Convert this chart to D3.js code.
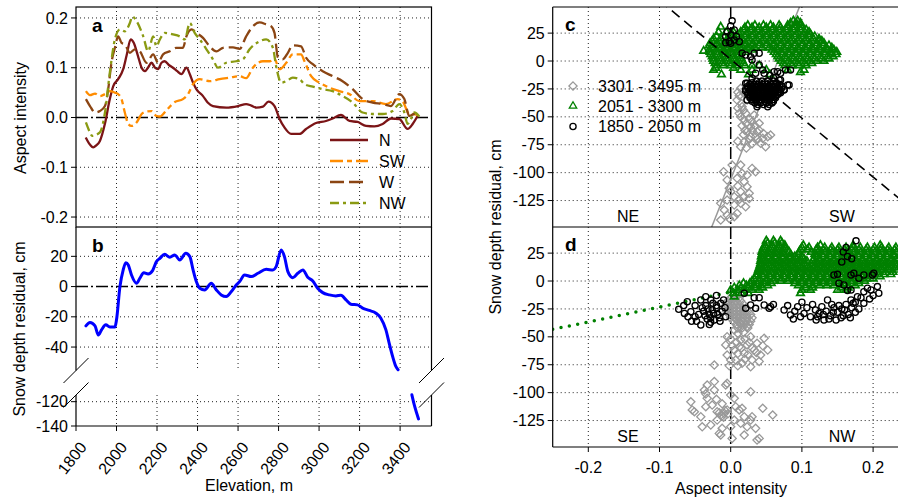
<!DOCTYPE html>
<html>
<head>
<meta charset="utf-8">
<script src="https://cdn.jsdelivr.net/npm/d3@7"></script>
<style>
body { margin: 0; background: #fff; }
text { font-family: "Liberation Sans", Arial, sans-serif; fill: #000; }
</style>
</head>
<body>
<div id="chart"></div>
<script>
// ---------- data: panel a (aspect intensity vs elevation) ----------
var aspN = [[1848,-0.04],[1870,-0.055],[1885,-0.06],[1900,-0.056],[1918,-0.047],[1943,-0.012],[1967,0.037],[1984,0.063],[2008,0.077],[2033,0.097],[2050,0.125],[2070,0.157],[2085,0.15],[2105,0.125],[2124,0.1],[2140,0.093],[2155,0.1],[2173,0.11],[2190,0.1],[2205,0.097],[2222,0.11],[2238,0.113],[2260,0.105],[2279,0.1],[2300,0.093],[2320,0.087],[2345,0.1],[2362,0.087],[2378,0.07],[2394,0.057],[2427,0.043],[2450,0.03],[2476,0.023],[2542,0.02],[2600,0.023],[2640,0.027],[2665,0.024],[2690,0.02],[2723,0.022],[2750,0.032],[2780,0.023],[2805,-0.003],[2829,-0.02],[2862,-0.033],[2903,-0.033],[2936,-0.023],[2985,-0.011],[3034,-0.007],[3067,-0.002],[3108,0.005],[3150,-0.007],[3190,-0.009],[3232,-0.017],[3273,-0.018],[3314,-0.013],[3355,-0.002],[3396,-0.003],[3437,-0.023],[3462,-0.013],[3486,0.003]];
var aspSW = [[1849,0.053],[1869,0.045],[1894,0.048],[1918,0.043],[1943,0.047],[1967,0.053],[1992,0.05],[2008,0.047],[2025,0.037],[2041,0.01],[2058,-0.013],[2074,-0.017],[2099,-0.01],[2124,0.007],[2148,0.012],[2173,0.013],[2197,0.003],[2214,0.002],[2247,0.015],[2288,0.031],[2328,0.037],[2353,0.047],[2378,0.067],[2411,0.077],[2460,0.073],[2509,0.077],[2558,0.08],[2608,0.083],[2640,0.079],[2673,0.1],[2723,0.113],[2756,0.113],[2780,0.117],[2805,0.097],[2838,0.11],[2870,0.127],[2911,0.127],[2928,0.113],[2961,0.083],[3002,0.07],[3051,0.06],[3100,0.053],[3150,0.047],[3199,0.033],[3264,0.033],[3330,0.027],[3388,0.037],[3412,0.033],[3445,0.007],[3470,0.007],[3495,0]];
var aspW = [[1849,0.037],[1869,0.023],[1894,0.01],[1918,0.013],[1943,0.023],[1960,0.06],[1975,0.11],[1992,0.14],[2008,0.163],[2025,0.15],[2041,0.147],[2066,0.13],[2091,0.137],[2115,0.133],[2148,0.11],[2181,0.127],[2205,0.11],[2230,0.127],[2263,0.133],[2296,0.14],[2328,0.14],[2345,0.163],[2370,0.177],[2394,0.17],[2427,0.16],[2460,0.143],[2493,0.133],[2526,0.14],[2575,0.141],[2608,0.138],[2640,0.163],[2673,0.183],[2706,0.191],[2739,0.187],[2764,0.183],[2780,0.17],[2797,0.12],[2821,0.117],[2846,0.13],[2870,0.145],[2911,0.143],[2936,0.12],[2969,0.107],[3018,0.093],[3067,0.083],[3116,0.073],[3166,0.057],[3215,0.037],[3264,0.03],[3314,0.027],[3355,0.023],[3396,0.047],[3421,0.037],[3445,0.003],[3470,0.007],[3495,0]];
var aspNW = [[1849,-0.01],[1869,-0.03],[1880,-0.037],[1918,-0.03],[1943,0.01],[1967,0.09],[1992,0.157],[2017,0.177],[2041,0.173],[2066,0.19],[2078,0.203],[2100,0.193],[2132,0.163],[2156,0.133],[2181,0.163],[2197,0.143],[2214,0.157],[2238,0.17],[2279,0.167],[2312,0.163],[2337,0.157],[2362,0.19],[2386,0.17],[2411,0.157],[2444,0.137],[2476,0.117],[2501,0.1],[2542,0.11],[2591,0.113],[2624,0.117],[2657,0.137],[2706,0.153],[2739,0.157],[2772,0.14],[2788,0.103],[2813,0.07],[2838,0.073],[2870,0.08],[2903,0.077],[2928,0.067],[2969,0.062],[3018,0.057],[3067,0.053],[3116,0.043],[3166,0.03],[3215,0.01],[3264,0.007],[3314,0.007],[3363,0.013],[3396,0.027],[3421,0.01],[3437,-0.013],[3453,-0.003],[3470,0.01],[3495,0.002]];
var aspSeries = ["N", "SW", "W", "NW"];
var aspColors = ["#7b1416", "#ff8c00", "#8b4513", "#8a9a12"];
var aspDash = [null, "13,4,5,4", "14,5", "9,4,3,4"];

// ---------- data: panel b (snow depth residual vs elevation) ----------
var resid = [[1849,-26],[1869,-23.8],[1894,-26],[1910,-32],[1926,-28.6],[1947,-25.3],[1967,-26.8],[1992,-26.8],[2000,-22],[2017,0],[2033,11],[2046,15.8],[2058,14.3],[2074,7.7],[2099,2.2],[2115,5.5],[2135,9.2],[2156,8.4],[2178,10.6],[2197,16.5],[2214,18.7],[2238,21.3],[2263,19.4],[2288,20.9],[2312,17.6],[2342,22],[2362,19.8],[2378,11],[2394,3.3],[2411,-1.1],[2435,-2.2],[2468,2.2],[2493,-2.2],[2517,-5.5],[2542,-6.6],[2567,-3.3],[2591,1.1],[2608,3.3],[2632,7.7],[2665,6.6],[2698,8.8],[2739,11.4],[2772,11],[2788,13.2],[2813,24.2],[2829,19.8],[2846,9.9],[2870,5.9],[2895,8.8],[2920,11],[2944,6.2],[2969,3.7],[2993,-1.1],[3018,-4],[3051,-5.5],[3083,-6.2],[3108,-5.7],[3133,-8.8],[3157,-11.7],[3190,-12.1],[3215,-14.3],[3248,-15.8],[3281,-17.6],[3305,-20.9],[3330,-28.6],[3346,-37.4],[3363,-46.2],[3379,-52.8],[3390,-55]];
var residLow = [[3458,-114],[3470,-122.7],[3491,-134.2]];

// ---------- data: panel c (SW aspect intensity vs residual) ----------
var cGreenRows = [
  [36,[0.088,0.094]],
  [34,[0.084,0.092,0.098]],
  [32,[0.024,0.034,0.046,0.056,0.068,0.08,0.09,0.098]],
  [30.6,[-0.014]],
  [30,[0.02,0.03,0.04,0.05,0.06,0.07,0.08,0.09,0.1]],
  [28,[0.018,0.028,0.038,0.048,0.058,0.068,0.078,0.088,0.098,0.106]],
  [26,[-0.017,-0.006,0.004,0.014,0.024,0.034,0.044,0.054,0.064,0.074,0.084,0.094,0.104,0.11]],
  [24,[0.002,0.012,0.022,0.032,0.042,0.052,0.062,0.072,0.082,0.092,0.102,0.112]],
  [22,[-0.02,-0.01,0.0,0.01,0.02,0.03,0.04,0.05,0.06,0.07,0.08,0.09,0.1,0.11,0.118]],
  [20,[-0.024,-0.014,-0.004,0.006,0.016,0.026,0.036,0.046,0.056,0.066,0.076,0.086,0.096,0.106,0.116,0.124]],
  [18,[-0.026,-0.016,-0.006,0.004,0.014,0.024,0.034,0.044,0.054,0.064,0.074,0.084,0.094,0.104,0.114,0.124,0.128]],
  [16,[-0.029,-0.019,-0.009,0.001,0.011,0.021,0.031,0.041,0.051,0.061,0.071,0.081,0.091,0.101,0.111,0.121,0.131]],
  [14,[-0.03,-0.02,-0.01,0.0,0.01,0.02,0.03,0.04,0.05,0.06,0.07,0.08,0.09,0.1,0.11,0.12,0.13,0.138]],
  [12,[-0.026,-0.016,-0.006,0.004,0.014,0.024,0.034,0.044,0.054,0.064,0.074,0.084,0.094,0.104,0.114,0.124,0.134,0.142]],
  [10,[-0.03,-0.02,-0.01,0.0,0.01,0.02,0.03,0.058,0.066,0.076,0.086,0.096,0.106,0.116,0.126,0.136,0.145]],
  [9,[-0.038]],
  [8,[-0.029,-0.019,-0.009,0.001,0.011,0.021,0.061,0.071,0.081,0.091,0.101,0.111,0.121,0.131,0.141,0.149]],
  [6,[-0.028,-0.018,-0.008,0.002,0.012,0.064,0.072,0.082,0.092,0.102,0.112,0.122,0.132,0.142,0.148]],
  [4,[-0.026,-0.016,-0.006,0.004,0.014,0.066,0.076,0.086,0.096,0.106,0.116,0.126,0.136,0.144]],
  [2,[-0.025,-0.015,-0.005,0.005,0.015,0.068,0.078,0.088,0.098,0.108,0.118,0.128,0.138]],
  [0,[-0.024,-0.014,-0.004,0.006,0.016,0.071,0.081,0.091,0.101,0.111,0.121,0.131]],
  [-2,[-0.022,-0.012,-0.002,0.008,0.018,0.074,0.084,0.094,0.104,0.114]],
  [-4,[-0.02,-0.01,0.0,0.01,0.02,0.03,0.04,0.076,0.086,0.096,0.106]],
  [-6.3,[-0.021,0.004]],
  [-8,[-0.024,0.014,0.03,0.05,0.08,0.103]],
  [-10,[0.098]],
  [-12,[-0.013,0.025,0.055]]
];
var cBlackRows = [
  [-18,[0.036,0.044,0.052,0.06]],
  [-19.5,[0.03,0.04,0.048,0.056,0.064]],
  [-21,[0.027,0.033,0.039,0.045,0.051,0.057,0.063,0.069]],
  [-22.5,[0.024,0.03,0.036,0.042,0.048,0.054,0.06,0.066,0.072]],
  [-24,[0.024,0.03,0.036,0.042,0.048,0.054,0.06,0.066,0.072]],
  [-25.5,[0.021,0.027,0.033,0.039,0.045,0.051,0.057,0.063,0.069,0.075]],
  [-27,[0.021,0.027,0.033,0.039,0.045,0.051,0.057,0.063,0.069]],
  [-28.5,[0.024,0.03,0.036,0.042,0.048,0.054,0.06,0.066,0.07]],
  [-30,[0.024,0.03,0.036,0.042,0.048,0.054,0.06,0.066]],
  [-31.5,[0.027,0.033,0.039,0.045,0.051,0.057,0.063]],
  [-33,[0.027,0.033,0.039,0.045,0.051,0.057,0.063]],
  [-34.5,[0.03,0.036,0.042,0.048,0.054,0.06]],
  [-36,[0.03,0.036,0.042,0.048,0.054,0.06]],
  [-37.5,[0.034,0.042,0.05,0.058]],
  [-39,[0.038,0.046,0.054]]
];
var cBlack = [[0.002,36],[0,31.4],[-0.005,26.3],[0.005,27.8],[-0.007,21.8],[0,23.3],[-0.002,17.3],[-0.007,16.4],[0.005,18.8],[0.012,17.3],[0,15.9],[0.008,22],
  [0.016,6.9],[0.021,5.4],[0.028,3.9],[0.033,6.9],[0.04,6.9],[0.03,0.9],[0.04,-3.6],[0.045,-8.1],[0.035,-11],[0.047,-11],[0.061,-9.6],[0.07,-11],[0.077,-8.1],[0.023,-20],[0.068,-17],[0.08,-21.5],[0.075,-26],[0.068,-28.7],[0.055,-13],[0.06,-15],
  [0.066,-9.6],[0.084,-8],[0.082,-21.5],[0.07,-17],[0.052,-41],[0.037,-41],[0.023,-35],[0.021,-20],[0.03,-15.5]];
var cGrey = [[0.014,-24.5],[0.009,-35],[0.012,-46.9],[0.019,-52.9],[0.028,-58.9],[0.037,-63.3],[0.052,-67.8],[0.056,-66.3],[0.049,-76.8],[0.042,-73.7],[0.028,-67.8],[0.014,-76.8],[0.019,-72.3],[0.023,-63.3],[0.016,-40.9],[0.021,-46.9],[0.023,-35],[0.019,-29],[0.033,-48.4],[0.03,-54.4],[0.04,-55.8],[0.035,-67.8],[0.045,-69.3],
  [0.01,-28],[0.012,-31],[0.015,-38],[0.01,-42],[0.014,-50],[0.018,-44],[0.022,-56],[0.026,-52],[0.016,-58],[0.02,-62],[0.03,-62],[0.026,-70],[0.034,-58],[0.04,-62],[0.046,-65],[0.038,-70],[0.018,-66],[0.01,-72],[0.022,-78],[0.03,-74],
  [-0.01,-99.2],[0.002,-93.2],[0.014,-93.2],[0.03,-96.2],[0.035,-99.2],[-0.005,-106.6],[-0.002,-114],[0.009,-105.1],[0.019,-108.2],[0.023,-112.6],[0.026,-118.5],[0.014,-117.1],[0.005,-121.6],[-0.005,-124.6],[-0.014,-127.5],[-0.009,-133.5],[0.005,-129],[0.014,-127.5],[0.009,-136.5],[-0.002,-141],[-0.014,-142.5],[0.021,-130.6],[0.026,-123.1],[0.023,-102.2],[0.016,-100.6],[0.005,-139.5],[-0.005,-138],[0.01,-112],[0,-117],[0.018,-122],[0.012,-124]];
var fitGreyC = [[-0.03,-154],[0.1,54]];
var fitBlackC = [[-0.1,54.2],[0.3,-156.6]];

// ---------- data: panel d (NW aspect intensity vs residual) ----------
var dGreenRows = [
  [36,[0.05,0.06,0.07]],
  [34,[0.052,0.062,0.072]],
  [32,[0.048,0.058,0.068,0.076,0.102,0.126,0.172,0.21]],
  [30,[0.046,0.056,0.066,0.076,0.1,0.11,0.122,0.132,0.142,0.152,0.162,0.172,0.182,0.192,0.202,0.212,0.222,0.232]],
  [28,[0.045,0.055,0.065,0.075,0.098,0.108,0.12,0.13,0.14,0.15,0.16,0.17,0.18,0.19,0.2,0.21,0.22,0.23]],
  [26,[0.044,0.054,0.064,0.074,0.082,0.096,0.113,0.123,0.133,0.143,0.153,0.163,0.173,0.183,0.193,0.203,0.213,0.223,0.233]],
  [24,[0.044,0.054,0.064,0.074,0.084,0.095,0.118,0.128,0.138,0.148,0.158,0.168,0.178,0.188,0.198,0.208,0.218,0.228]],
  [22,[0.043,0.053,0.063,0.073,0.083,0.09,0.1,0.122,0.13,0.14,0.15,0.16,0.17,0.18,0.19,0.2,0.21,0.22,0.23]],
  [20,[0.043,0.053,0.063,0.073,0.083,0.093,0.103,0.117,0.125,0.135,0.145,0.155,0.165,0.175,0.185,0.195,0.205,0.215,0.225,0.233]],
  [18,[0.042,0.047,0.057,0.067,0.077,0.087,0.097,0.107,0.115,0.125,0.135,0.145,0.155,0.165,0.175,0.185,0.195,0.205,0.215,0.225,0.234]],
  [16,[0.042,0.052,0.062,0.072,0.082,0.092,0.102,0.12,0.13,0.14,0.15,0.16,0.17,0.18,0.19,0.2,0.21,0.22,0.23]],
  [14,[0.041,0.046,0.056,0.066,0.076,0.086,0.096,0.106,0.115,0.125,0.135,0.145,0.155,0.165,0.175,0.185,0.195,0.205,0.215,0.225,0.234]],
  [12,[0.04,0.05,0.06,0.07,0.08,0.09,0.1,0.11,0.12,0.13,0.14,0.15,0.16,0.17,0.18,0.19,0.2,0.21,0.22,0.23]],
  [10,[0.039,0.044,0.054,0.064,0.074,0.084,0.094,0.104,0.114,0.124,0.134,0.144,0.154,0.164,0.174,0.184,0.194,0.204,0.214,0.224,0.234]],
  [8,[0.038,0.048,0.058,0.068,0.078,0.088,0.098,0.108,0.118,0.128,0.138,0.148,0.158,0.168,0.178,0.188,0.198,0.208,0.218,0.228]],
  [6,[0.037,0.043,0.053,0.063,0.073,0.083,0.093,0.103,0.113,0.123,0.133,0.143,0.153,0.163,0.173,0.183,0.193,0.203,0.215,0.225]],
  [4,[0.036,0.046,0.056,0.066,0.076,0.086,0.096,0.106,0.116,0.126,0.136,0.146,0.156,0.166,0.176,0.186,0.196,0.21]],
  [2,[0.033,0.041,0.051,0.061,0.071,0.081,0.091,0.101,0.111,0.121,0.131,0.141,0.151,0.161,0.171,0.181,0.191,0.2]],
  [0,[0.03,0.04,0.05,0.06,0.07,0.08,0.09,0.1,0.11,0.12,0.13,0.14,0.15,0.16,0.17,0.18,0.188]],
  [-2,[0.018,0.027,0.037,0.047,0.057,0.09,0.1,0.11,0.12,0.13,0.14,0.15,0.16,0.17,0.18]],
  [-4,[0.012,0.022,0.032,0.042,0.052,0.095,0.105,0.115,0.125,0.135,0.145,0.155,0.165,0.175]],
  [-6,[0.005,0.015,0.025,0.035,0.045,0.105,0.115,0.155,0.165]],
  [-8,[0.0,0.01,0.02,0.03,0.04,0.1,0.112,0.15,0.162]],
  [-11,[0.004,0.015,0.025,0.098]],
  [-14,[0.005]]
];
var dBlack = [[-0.073,-25.4],[-0.061,-18.5],[-0.056,-27.5],[-0.042,-17],[-0.028,-17],[-0.014,-20],[-0.042,-39.4],[-0.023,-34.9],[-0.007,-32],[-0.066,-22],[-0.05,-22],[-0.05,-32],[-0.035,-14],[-0.02,-13],[-0.035,-22],[-0.03,-30],[-0.02,-24],[-0.012,-27],[-0.038,-27],[-0.045,-30],[-0.028,-37],[-0.015,-36],[-0.06,-32],[-0.033,-34],[-0.025,-20],[-0.018,-30],[-0.008,-24],[-0.04,-24],[-0.026,-26],[-0.01,-17],[-0.048,-36],[-0.03,-39],[-0.055,-36],[-0.065,-29],[-0.032,-25],[-0.024,-29],[-0.036,-31],[-0.028,-33],[-0.02,-22],[-0.016,-33],
  [0.019,-11],[0.033,-15],[0.04,-15],[0.028,-21.5],[0.047,-21.5],[0.056,-23],[0.035,-24.5],[0.021,-24.5],[0.054,-24.5],[0.06,-21],
  [0.075,-26],[0.084,-30.5],[0.094,-23],[0.103,-29],[0.112,-32],[0.119,-26],[0.131,-35],[0.136,-17],[0.08,-22],[0.09,-27],[0.098,-32],[0.107,-24],[0.115,-21],[0.124,-29],[0.128,-23],[0.134,-27],[0.14,-31],[0.145,-24],[0.15,-28],[0.155,-33],[0.16,-26],[0.165,-30],[0.17,-24],[0.175,-28],[0.142,-21],[0.152,-22],[0.162,-21],[0.172,-20],[0.18,-25],[0.158,-31],[0.148,-35],[0.138,-34],[0.12,-35],[0.1,-19],[0.088,-34],[0.168,-33],[0.144,-28],[0.156,-25],[0.13,-30],[0.122,-32],
  [0.176,36],[0.162,30],[0.158,26],[0.164,22],[0.156,17],[0.17,20],[0.145,5.4],[0.15,6],[0.169,5.4],[0.18,2.4],[0.187,5.4],[0.199,5.4],[0.159,-3.6],[0.169,-8],[0.187,-9.6],[0.192,-6.5],[0.208,-11],[0.178,-14],[0.169,-17],[0.187,-20],[0.197,-8],[0.206,-5],[0.183,-15],[0.2,-13],[0.173,6.9],[0.201,6.9],[0.152,-2],[0.164,-8.5],[0.195,-16],[0.175,-19]];
var dGreyRows = [
  [-12,[0.004,0.01]],
  [-15,[0.0,0.006,0.012]],
  [-18,[-0.004,0.002,0.008,0.014]],
  [-21,[-0.006,0.0,0.006,0.012,0.018]],
  [-24,[-0.008,-0.002,0.004,0.01,0.016,0.022]],
  [-27,[-0.006,0.0,0.006,0.012,0.018,0.024]],
  [-30,[-0.002,0.004,0.01,0.016,0.022,0.028]],
  [-33,[0.0,0.006,0.012,0.018,0.024,0.03]],
  [-36,[0.004,0.01,0.016,0.022,0.028]],
  [-39,[0.008,0.014,0.02,0.026]],
  [-42,[0.01,0.016,0.024]]
];
var dGrey = [[-0.005,-49.9],[-0.007,-57.3],[-0.005,-66.3],[0,-70.8],[0.005,-61.8],[0.014,-52.9],[0.023,-40.9],[0.028,-49.9],[0.037,-55.8],[0.047,-51.3],[0.052,-61.8],[0.042,-66.3],[0.03,-70.8],[0.028,-76.8],[0.016,-73.7],[0.007,-70.8],[-0.023,-75.3],[0.019,-64.8],[0.033,-61.8],[0.012,-58.9],[0.023,-57.3],[0.005,-43.9],[0.014,-37.9],[0.009,-32],
  [0.01,-47],[0.018,-46],[0.02,-52],[0.026,-55],[0.03,-60],[0.015,-60],[0.008,-55],[0,-52],[0.002,-58],[0.01,-65],[0.024,-66],[0.036,-64],[0.045,-58],[0.04,-72],[0.02,-70],[-0.002,-76],[0.01,-76],
  [-0.023,-90.1],[-0.037,-97.7],[-0.033,-105.1],[-0.056,-108.2],[-0.054,-115.5],[-0.042,-121.6],[-0.035,-112.6],[-0.026,-111.1],[-0.019,-117.1],[-0.014,-120.1],[-0.009,-118.6],[-0.005,-115.5],[-0.007,-93.2],[0,-102.2],[0.005,-105.1],[0.007,-112.6],[0.012,-115.5],[0.016,-114],[0.028,-99.2],[0.019,-121.6],[0.03,-121.6],[0.045,-114],[0.059,-120.1],[-0.028,-129],[-0.019,-124.6],[-0.012,-132],[0,-130.6],[0.005,-124.6],[0.014,-127.5],[0.023,-130.6],[0.028,-124.6],[0.019,-138],[0.002,-141],[-0.014,-138],[0.04,-141],[0.035,-132],[-0.033,-93.2],[-0.005,-91.7],[0.037,-142.5],[-0.016,-136.5],[-0.04,-130.6],[-0.051,-117.1],[-0.035,-101.1],[-0.023,-97.7],[-0.01,-122],[-0.004,-119],[-0.02,-106],[-0.012,-110],[-0.016,-118],[-0.008,-116],[-0.012,-121]];
var fitGreenD = [[-0.25,-43.3],[0.25,23.3]];

// ---------- ticks, labels ----------
var elevTicks = [1800, 2000, 2200, 2400, 2600, 2800, 3000, 3200, 3400];
var aspTicksA = [-0.2, -0.1, 0, 0.1, 0.2];
var residTicksB = [20, 0, -20, -40, -120, -140];
var residTicksCD = [25, 0, -25, -50, -75, -100, -125];
var aspTicksCD = [-0.2, -0.1, 0, 0.1, 0.2];
var groupNames = ["3301 - 3495 m", "2051 - 3300 m", "1850 - 2050 m"];
var quadC = ["NE", "SW"], quadD = ["SE", "NW"];

function rowsToPoints(rows) {
	var out = [];
	rows.forEach(function(r) { r[1].forEach(function(x) { out.push([x, r[0]]); }); });
	return out;
}

var cfg = {
	w: 898, h: 500,
	fontSize: 16,
	gridDash: "1,3",
	zeroDash: "12,3,2,3",
	green: "#008000",
	grey: "#999999"
};

var svg = d3.select("#chart").append("svg")
	.attr("width", cfg.w)
	.attr("height", cfg.h);

// scales
var xA = d3.scaleLinear().domain([1800, 3555]).range([76, 431.5]);
var yA = d3.scaleLinear().domain([-0.22, 0.222]).range([227, 7]);
// broken axis for panel b: upper part -55.5..39.4, lower part -140..-114.5
var yB = d3.scaleLinear().domain([-140, -114.5, -55.5, 39.4]).range([426, 395, 370.5, 227]);
var xC = d3.scaleLinear().domain([-0.25, 0.25]).range([552.7, 908.7]);
var yC = d3.scaleLinear().domain([-148.7, 48.4]).range([227, 7]);
var yD = d3.scaleLinear().domain([-148.7, 48.4]).range([447, 227]);

function hline(g, x1, x2, y, dash, color, w) {
	g.append("line").attr("x1", x1).attr("x2", x2).attr("y1", y).attr("y2", y)
		.attr("stroke", color || "#000").attr("stroke-width", w || 1)
		.attr("stroke-dasharray", dash);
}
function vline(g, x, y1, y2, dash, color, w) {
	g.append("line").attr("x1", x).attr("x2", x).attr("y1", y1).attr("y2", y2)
		.attr("stroke", color || "#000").attr("stroke-width", w || 1)
		.attr("stroke-dasharray", dash);
}
function yTickLabels(g, ticks, y, x0, fmt) {
	ticks.forEach(function(t) {
		hline(g, x0 - 5, x0, y(t));
		g.append("text").attr("x", x0 - 8).attr("y", y(t)).attr("dy", "0.35em")
			.attr("text-anchor", "end").attr("font-size", cfg.fontSize).text(fmt(t));
	});
}
var fmt1 = function(d) { return d3.format(".1f")(d).replace("\u2212", "-"); };

// ===================== panel a =====================
var ga = svg.append("g");
aspTicksA.forEach(function(t) { if (t !== 0) hline(ga, xA(1800), xA(3555), yA(t), cfg.gridDash, "#222"); });
elevTicks.forEach(function(t) { if (t !== 1800) vline(ga, xA(t), 7, 227, cfg.gridDash, "#222"); });
hline(ga, xA(1800), xA(3555), yA(0), cfg.zeroDash, "#000", 1.5);

var lineA = d3.line().x(function(d) { return xA(d[0]); }).y(function(d) { return yA(d[1]); }).curve(d3.curveMonotoneX);
[aspN, aspSW, aspW, aspNW].forEach(function(s, i) {
	ga.append("path").datum(s)
		.attr("d", lineA)
		.attr("fill", "none")
		.attr("stroke", aspColors[i])
		.attr("stroke-width", 2.3)
		.attr("stroke-dasharray", aspDash[i]);
});

// legend a
aspSeries.forEach(function(name, i) {
	var ly = 140 + i * 21;
	ga.append("line").attr("x1", 330).attr("x2", 368).attr("y1", ly).attr("y2", ly)
		.attr("stroke", aspColors[i]).attr("stroke-width", 2.3).attr("stroke-dasharray", aspDash[i]);
	ga.append("text").attr("x", 379).attr("y", ly).attr("dy", "0.35em")
		.attr("font-size", cfg.fontSize).text(name);
});

yTickLabels(ga, aspTicksA, yA, 76, fmt1);
ga.append("rect").attr("x", 76).attr("y", 7).attr("width", 431.5 - 76).attr("height", 220)
	.attr("fill", "none").attr("stroke", "#000").attr("stroke-width", 1.2);
ga.append("text").attr("x", 92).attr("y", 32).attr("font-size", 19).attr("font-weight", "bold").text("a");
ga.append("text").attr("transform", "translate(26,118) rotate(-90)")
	.attr("text-anchor", "middle").attr("font-size", cfg.fontSize).text("Aspect intensity");

// ===================== panel b =====================
var gb = svg.append("g");
var upTop = yB(39.4), upBot = yB(-55.5), loTop = yB(-114.5), loBot = yB(-140);
[20, -20, -40, -120].forEach(function(t) { hline(gb, 76, 431.5, yB(t), cfg.gridDash, "#222"); });
elevTicks.forEach(function(t) {
	if (t === 1800) return;
	vline(gb, xA(t), upTop, upBot, cfg.gridDash, "#222");
	vline(gb, xA(t), loTop, loBot, cfg.gridDash, "#222");
});
hline(gb, 76, 431.5, yB(0), cfg.zeroDash, "#000", 1.5);

var lineB = d3.line().x(function(d) { return xA(d[0]); }).y(function(d) { return yB(d[1]); }).curve(d3.curveMonotoneX);
[resid, residLow].forEach(function(s) {
	gb.append("path").datum(s).attr("d", lineB)
		.attr("fill", "none").attr("stroke", "#0000ff").attr("stroke-width", 3).attr("stroke-linecap", "round");
});

// frame with the axis break
hline(gb, 76, 431.5, loBot, null, "#000", 1.2);
[76, 431.5].forEach(function(x) {
	vline(gb, x, upTop, upBot, null, "#000", 1.2);
	vline(gb, x, loTop, loBot, null, "#000", 1.2);
	[upBot, loTop].forEach(function(y) {
		gb.append("line").attr("x1", x - 12.5).attr("y1", y + 12.5).attr("x2", x + 12.5).attr("y2", y - 12.5)
			.attr("stroke", "#000").attr("stroke-width", 1);
	});
});
yTickLabels(gb, residTicksB, yB, 76, function(d) { return String(d); });

elevTicks.forEach(function(t) {
	vline(gb, xA(t), loBot, loBot + 5);
	gb.append("text")
		.attr("transform", "translate(" + (xA(t) + 7) + ",444) rotate(-52)")
		.attr("text-anchor", "end").attr("dy", "0.35em")
		.attr("font-size", cfg.fontSize).text(t);
});
gb.append("text").attr("x", 92).attr("y", 252).attr("font-size", 19).attr("font-weight", "bold").text("b");
gb.append("text").attr("x", 249).attr("y", 491).attr("text-anchor", "middle")
	.attr("font-size", cfg.fontSize).text("Elevation, m");
gb.append("text").attr("transform", "translate(25,329) rotate(-90)")
	.attr("text-anchor", "middle").attr("font-size", cfg.fontSize).text("Snow depth residual, cm");

// ===================== panels c and d =====================
var defs = svg.append("defs");
defs.append("clipPath").attr("id", "clipC").append("rect")
	.attr("x", 552.7).attr("y", 7).attr("width", 360).attr("height", 220);
defs.append("clipPath").attr("id", "clipD").append("rect")
	.attr("x", 552.7).attr("y", 227).attr("width", 360).attr("height", 220);

function diamondPath(r) { return "M0," + (-r) + "L" + r + ",0L0," + r + "L" + (-r) + ",0Z"; }
var triPath = d3.symbol(d3.symbolTriangle, 24)();

function drawGrey(g, pts, xs, ys) {
	g.append("g").selectAll("path").data(pts).join("path")
		.attr("d", diamondPath(4.1))
		.attr("transform", function(d) { return "translate(" + xs(d[0]) + "," + ys(d[1]) + ")"; })
		.attr("fill", "none").attr("stroke", cfg.grey).attr("stroke-width", 1.3);
}
function drawGreen(g, pts, xs, ys) {
	g.append("g").selectAll("path").data(pts).join("path")
		.attr("d", triPath)
		.attr("transform", function(d) { return "translate(" + xs(d[0]) + "," + ys(d[1]) + ")"; })
		.attr("fill", "none").attr("stroke", cfg.green).attr("stroke-width", 1.7);
}
function drawBlack(g, pts, xs, ys) {
	g.append("g").selectAll("circle").data(pts).join("circle")
		.attr("cx", function(d) { return xs(d[0]); })
		.attr("cy", function(d) { return ys(d[1]); })
		.attr("r", 3.1)
		.attr("fill", "none").attr("stroke", "#000").attr("stroke-width", 1.3);
}
function fitLine(g, seg, xs, ys, color, w, dash, cap) {
	g.append("line")
		.attr("x1", xs(seg[0][0])).attr("y1", ys(seg[0][1]))
		.attr("x2", xs(seg[1][0])).attr("y2", ys(seg[1][1]))
		.attr("stroke", color).attr("stroke-width", w)
		.attr("stroke-dasharray", dash).attr("stroke-linecap", cap || "butt");
}
function gridCD(g, ys, top, bottom) {
	residTicksCD.forEach(function(t) { hline(g, 552.7, 898, ys(t), cfg.gridDash, "#222"); });
	aspTicksCD.forEach(function(t) { if (t !== 0) vline(g, xC(t), top, bottom, cfg.gridDash, "#222"); });
	vline(g, xC(0), top, bottom, cfg.zeroDash, "#000", 1.5);
}

// panel c
var gc = svg.append("g");
gridCD(gc, yC, 7, 227);
var pc = gc.append("g").attr("clip-path", "url(#clipC)");
drawGrey(pc, cGrey, xC, yC);
fitLine(pc, fitGreyC, xC, yC, cfg.grey, 1.5, null);
drawGreen(pc, rowsToPoints(cGreenRows), xC, yC);
drawBlack(pc, cBlack.concat(rowsToPoints(cBlackRows)), xC, yC);
fitLine(pc, fitBlackC, xC, yC, "#000", 1.6, "10,6");
gc.append("text").attr("x", 565).attr("y", 31).attr("font-size", 19).attr("font-weight", "bold").text("c");
gc.append("text").attr("x", 628).attr("y", 222).attr("text-anchor", "middle").attr("font-size", cfg.fontSize).text(quadC[0]);
gc.append("text").attr("x", 842).attr("y", 222).attr("text-anchor", "middle").attr("font-size", cfg.fontSize).text(quadC[1]);

// legend c
var legY = [86, 106, 126.5];
gc.append("path").attr("d", diamondPath(4.1)).attr("transform", "translate(573," + legY[0] + ")")
	.attr("fill", "none").attr("stroke", cfg.grey).attr("stroke-width", 1.3);
gc.append("path").attr("d", triPath).attr("transform", "translate(573," + legY[1] + ")")
	.attr("fill", "none").attr("stroke", cfg.green).attr("stroke-width", 1.3);
gc.append("circle").attr("cx", 573).attr("cy", legY[2]).attr("r", 3.1)
	.attr("fill", "none").attr("stroke", "#000").attr("stroke-width", 1.3);
groupNames.forEach(function(n, i) {
	gc.append("text").attr("x", 598).attr("y", legY[i]).attr("dy", "0.35em")
		.attr("font-size", cfg.fontSize).text(n);
});

// panel d
var gd = svg.append("g");
gridCD(gd, yD, 227, 447);
var pd = gd.append("g").attr("clip-path", "url(#clipD)");
drawGrey(pd, dGrey.concat(rowsToPoints(dGreyRows)), xC, yD);
drawGreen(pd, rowsToPoints(dGreenRows), xC, yD);
fitLine(pd, fitGreenD, xC, yD, cfg.green, 3.5, "0,8.5", "round");
drawBlack(pd, dBlack, xC, yD);
gd.append("text").attr("x", 565).attr("y", 251).attr("font-size", 19).attr("font-weight", "bold").text("d");
gd.append("text").attr("x", 628).attr("y", 442).attr("text-anchor", "middle").attr("font-size", cfg.fontSize).text(quadD[0]);
gd.append("text").attr("x", 842).attr("y", 442).attr("text-anchor", "middle").attr("font-size", cfg.fontSize).text(quadD[1]);

// frames and axes c/d
var gf = svg.append("g");
hline(gf, 552.7, 898, 7, null, "#000", 1.2);
hline(gf, 552.7, 898, 227, null, "#000", 1.2);
hline(gf, 552.7, 898, 447, null, "#000", 1.2);
vline(gf, 552.7, 7, 447, null, "#000", 1.2);
yTickLabels(gf, residTicksCD, yC, 552.7, function(d) { return String(d); });
yTickLabels(gf, residTicksCD, yD, 552.7, function(d) { return String(d); });
aspTicksCD.forEach(function(t) {
	vline(gf, xC(t), 447, 452);
	gf.append("text").attr("x", xC(t)).attr("y", 473).attr("text-anchor", "middle")
		.attr("font-size", cfg.fontSize).text(fmt1(t));
});
gf.append("text").attr("x", 731).attr("y", 494).attr("text-anchor", "middle")
	.attr("font-size", cfg.fontSize).text("Aspect intensity");
gf.append("text").attr("transform", "translate(501,227) rotate(-90)")
	.attr("text-anchor", "middle").attr("font-size", cfg.fontSize).text("Snow depth residual, cm");
</script>
</body>
</html>
